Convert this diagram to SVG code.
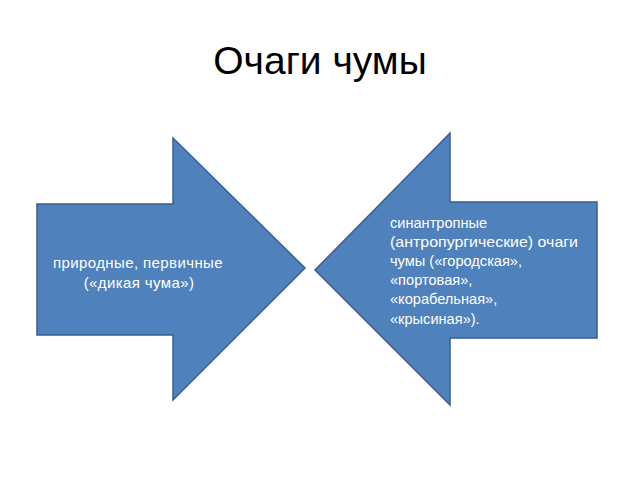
<svg xmlns="http://www.w3.org/2000/svg" width="640" height="480" viewBox="0 0 640 480">
<style>
.arrow{fill:#4F81BD;stroke:#3A5F8B;stroke-width:1.5}
.lbl{font-family:"Liberation Sans",Arial,sans-serif;font-size:14.6px;fill:#FFFFFF}
.lblL{font-size:15px;letter-spacing:0.4px}
.title{font-family:"Liberation Sans",Arial,sans-serif;font-size:39px;fill:#000000}
</style>
<rect width="640" height="480" fill="#FFFFFF"/>
<text class="title" x="320" y="74" text-anchor="middle">Очаги чумы</text>
<g id="left-arrow">
<polygon class="arrow" points="37,204 173,204 173,138 305,268 173,400 173,335 37,335"/>
<text class="lbl lblL" text-anchor="middle"><tspan x="138" y="268">природные, первичные</tspan><tspan x="139" y="288">(«дикая чума»)</tspan></text>
</g>
<g id="right-arrow">
<polygon class="arrow" points="597,202 450,202 450,133 315,270 450,405 450,338 597,338"/>
<text class="lbl"><tspan x="390" y="228">синантропные</tspan><tspan x="390" y="247" textLength="188" lengthAdjust="spacingAndGlyphs">(антропургические) очаги</tspan><tspan x="390" y="266">чумы («городская»,</tspan><tspan x="390" y="285">«портовая»,</tspan><tspan x="390" y="304">«корабельная»,</tspan><tspan x="390" y="324">«крысиная»).</tspan></text>
</g>
<g id="connectors"/>
</svg>
